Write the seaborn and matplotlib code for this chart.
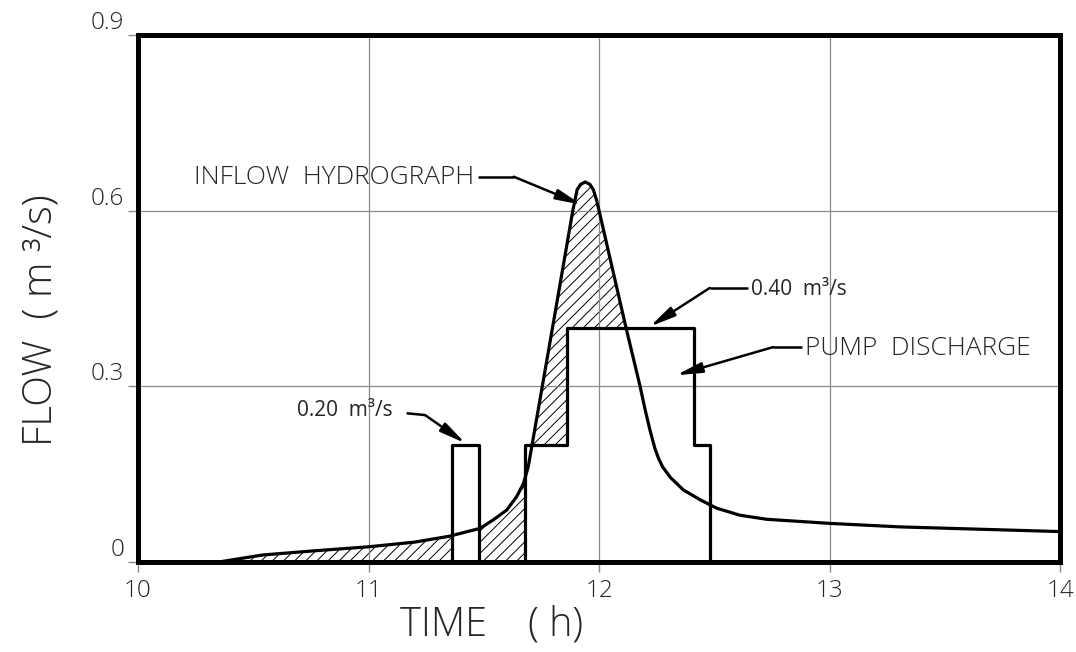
import matplotlib
matplotlib.use("Agg")
import matplotlib.pyplot as plt
import numpy as np
import pandas as pd
import seaborn as sns

# ---------------- data ----------------
inflow_t = [10.35, 10.54, 10.76, 11.00, 11.20, 11.35, 11.484, 11.541, 11.60, 11.643,
            11.672, 11.693, 11.708, 11.798, 11.886, 11.895, 11.905, 11.92, 11.94,
            11.96, 11.975, 11.99, 12.00, 12.117, 12.178, 12.20, 12.221, 12.243,
            12.258, 12.275, 12.308, 12.366, 12.44, 12.51, 12.61, 12.727, 13.00,
            13.306, 14.00]
inflow_q = [0.000, 0.012, 0.019, 0.026, 0.034, 0.044, 0.0575, 0.072, 0.089, 0.112,
            0.134, 0.163, 0.197, 0.400, 0.600, 0.617, 0.636, 0.645, 0.649,
            0.645, 0.636, 0.617, 0.600, 0.400, 0.300, 0.260, 0.225, 0.193,
            0.177, 0.163, 0.145, 0.123, 0.106, 0.092, 0.080, 0.073, 0.066,
            0.060, 0.052]

pump_t = [10.00, 11.36, 11.48, 11.68, 11.86, 12.41, 12.48, 14.00]
pump_q = [0.0, 0.20, 0.0, 0.20, 0.40, 0.20, 0.0, 0.0]

# storage (hatched) is shown up to the time inflow falls back to the 0.40 pump rate
storage_end = 12.117

x_ticks = [10, 11, 12, 13, 14]
x_tick_labels = ["10", "11", "12", "13", "14"]
y_ticks = [0.0, 0.3, 0.6, 0.9]
y_tick_labels = ["0", "0.3", "0.6", "0.9"]

# annotation texts and their anchor / leader positions (data coords)
ann_inflow = dict(text="INFLOW  HYDROGRAPH", text_xy=(11.46, 0.656),
                  elbow=[(11.475, 0.658), (11.63, 0.658)], tip=(11.925, 0.610))
ann_040 = dict(text="0.40  m³/s", text_xy=(12.66, 0.466),
               elbow=[(12.648, 0.468), (12.48, 0.468)], tip=(12.22, 0.402))
ann_pump = dict(text="PUMP  DISCHARGE", text_xy=(12.895, 0.365),
                elbow=[(12.882, 0.367), (12.755, 0.367)], tip=(12.334, 0.319))
ann_020 = dict(text="0.20  m³/s", text_xy=(10.69, 0.258),
               elbow=[(11.165, 0.254), (11.245, 0.251)], tip=(11.42, 0.203))

# ---------------- style ----------------
sns.set_theme(style="white")
plt.rcParams["font.family"] = ["Open Sans", "DejaVu Sans"]
plt.rcParams["hatch.linewidth"] = 0.7
plt.rcParams["hatch.color"] = "black"

inflow_df = pd.DataFrame({"time": inflow_t, "flow": inflow_q})
pump_df = pd.DataFrame({"time": pump_t, "flow": pump_q})

fig = plt.figure(figsize=(10.76, 6.52), dpi=100)
ax = fig.add_axes([0.1283, 0.138, 0.8569, 0.8083])

# hatched volume: area under inflow (rising limb), with pump area blanked out
ax.fill_between(inflow_df["time"], inflow_df["flow"], 0,
                where=inflow_df["time"] <= storage_end, facecolor="none",
                edgecolor="black", linewidth=0, hatch="///", zorder=1)
ax.fill_between(pump_df["time"], pump_df["flow"], 0, step="post",
                facecolor="white", edgecolor="none", linewidth=0, zorder=1.5)

sns.lineplot(data=inflow_df, x="time", y="flow", ax=ax, color="black",
             linewidth=2.3, zorder=3)
sns.lineplot(data=pump_df, x="time", y="flow", ax=ax, color="black",
             linewidth=2.3, drawstyle="steps-post", zorder=3)

ax.set_xlim(10, 14)
ax.set_ylim(0, 0.9)
ax.set_xticks(x_ticks)
ax.set_xticklabels(x_tick_labels)
ax.set_yticks(y_ticks)
ax.set_yticklabels(y_tick_labels)

for lab in ax.get_xticklabels() + ax.get_yticklabels():
    lab.set_fontfamily("Open Sans")
    lab.set_fontweight(300)
    lab.set_fontsize(17.5)
for lab in ax.get_yticklabels():
    lab.set_verticalalignment("bottom")

ax.tick_params(axis="both", which="major", direction="out", length=7,
               width=1.0, color="#888888", bottom=True, left=True)
ax.tick_params(axis="x", pad=5)
ax.tick_params(axis="y", pad=3)

ax.grid(True, color="#8a8a8a", linewidth=0.9)
ax.set_axisbelow(False)
for sp in ax.spines.values():
    sp.set_visible(True)
    sp.set_color("black")
    sp.set_linewidth(3.6)
    sp.set_zorder(4)

ax.set_xlabel("TIME    ( h)", family="Open Sans", weight=300, size=28.5)
ax.set_ylabel("FLOW  ( m ³/s)", family="Open Sans", weight=300, size=29)
ax.xaxis.set_label_coords(0.383, -0.08)
ax.yaxis.set_label_coords(-0.0835, 0.459)
ax.xaxis.label.set_verticalalignment("top")
ax.xaxis.label.set_horizontalalignment("center")
ax.yaxis.label.set_verticalalignment("bottom")
ax.yaxis.label.set_horizontalalignment("center")

big_ann = dict(family="Open Sans", weight=300, size=19)
small_ann = dict(family="Open Sans", weight=500, size=15)


def leader(ann, fontd, ha):
    ax.text(ann["text_xy"][0], ann["text_xy"][1], ann["text"], ha=ha, va="center",
            fontdict=fontd, zorder=5)
    (x0, y0), (x1, y1) = ann["elbow"]
    ax.plot([x0, x1], [y0, y1], color="black", linewidth=1.8, zorder=5,
            solid_capstyle="butt")
    ax.annotate("", xy=ann["tip"], xytext=(x1, y1),
                arrowprops=dict(arrowstyle="-|>,head_length=1.1,head_width=0.22",
                                mutation_scale=14, color="black", linewidth=1.8,
                                shrinkA=0, shrinkB=0), zorder=5)


leader(ann_inflow, big_ann, "right")
leader(ann_040, small_ann, "left")
leader(ann_pump, big_ann, "left")
leader(ann_020, small_ann, "left")

fig.savefig("out.png", dpi=100, facecolor="white")
